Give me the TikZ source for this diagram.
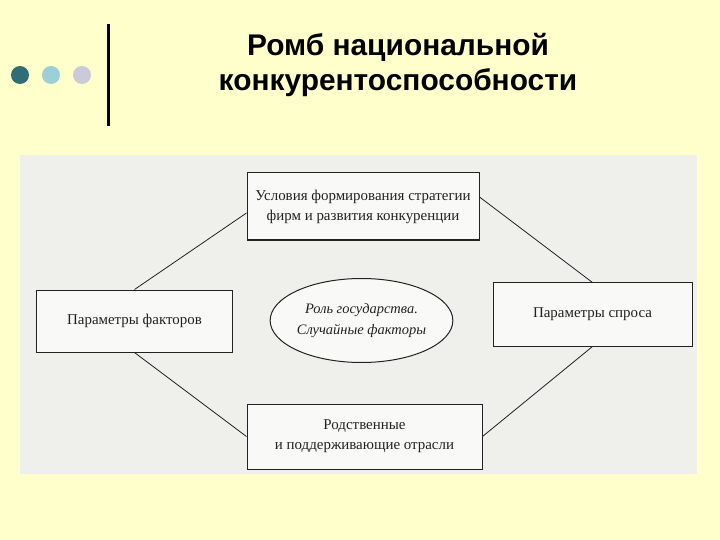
\documentclass[tikz,border=0pt]{standalone}
\usepackage{fontspec}
\setmainfont{Liberation Serif}
\newfontfamily\titlefont{Liberation Sans}
\usetikzlibrary{shapes.geometric}
\definecolor{slidebg}{HTML}{FFFFCC}
\definecolor{scanbg}{HTML}{EFEFEC}
\definecolor{dotA}{HTML}{2F6E76}
\definecolor{dotB}{HTML}{9CCFD8}
\definecolor{dotC}{HTML}{CBCAD8}
\definecolor{ink}{HTML}{222222}
\begin{document}
\begin{tikzpicture}[x=1bp,y=-1bp,
  fbox/.style={draw=ink,line width=1bp,fill=white!60!scanbg,inner sep=0pt,align=center,font=\fontsize{15}{20}\selectfont,text=ink},
  oval/.style={ellipse,draw=ink,line width=1bp,fill=white!60!scanbg,inner sep=0pt,align=center,font=\itshape\fontsize{14.5}{21}\selectfont,text=ink},
  conn/.style={draw=ink,line width=0.8bp},
  dot/.style={circle,inner sep=0pt,minimum size=18bp}]
\useasboundingbox (0,0) rectangle (720,540);
\fill[slidebg] (0,0) rectangle (720,540);
% decoration
\node[dot,fill=dotA] (d1) at (20,75) {};
\node[dot,fill=dotB] (d2) at (51,75) {};
\node[dot,fill=dotC] (d3) at (82,75) {};
\coordinate (vtop) at (108,24);
\coordinate (vbot) at (108,126);
\draw[line width=3bp,black] (vtop) -- (vbot);
% title
\node[font=\titlefont\bfseries\fontsize{30}{35}\selectfont,align=center,inner sep=0pt] (title) at (398,65)
  {Ромб национальной\\конкурентоспособности};
% scanned area
\fill[scanbg] (20,155) rectangle (697,474);
% boxes
\node[fbox,minimum width=232bp,minimum height=67bp] (top) at (363,206.5)
  {Условия формирования стратегии\\фирм и развития конкуренции};
\node[fbox,minimum width=195bp,minimum height=62bp] (left) at (134.5,321)
  {Параметры факторов};
\node[fbox,minimum width=199bp,minimum height=63bp] (right) at (592.5,314.5)
  {Параметры спроса};
\node[fbox,minimum width=235bp,minimum height=65bp] (bot) at (364.5,436.5)
  {Родственные\\и поддерживающие отрасли};
\node[oval,minimum width=181bp,minimum height=84bp] (gov) at (361.5,320.5)
  {Роль государства.\\Случайные факторы};
% connectors
\draw[conn] ([yshift=-6.5bp]top.west) -- (left.north);
\draw[conn] ([yshift=9.5bp]top.east) -- (right.north);
\draw[conn] (left.south) -- (bot.west);
\draw[conn] (right.south) -- (bot.east);
\end{tikzpicture}
\end{document}
